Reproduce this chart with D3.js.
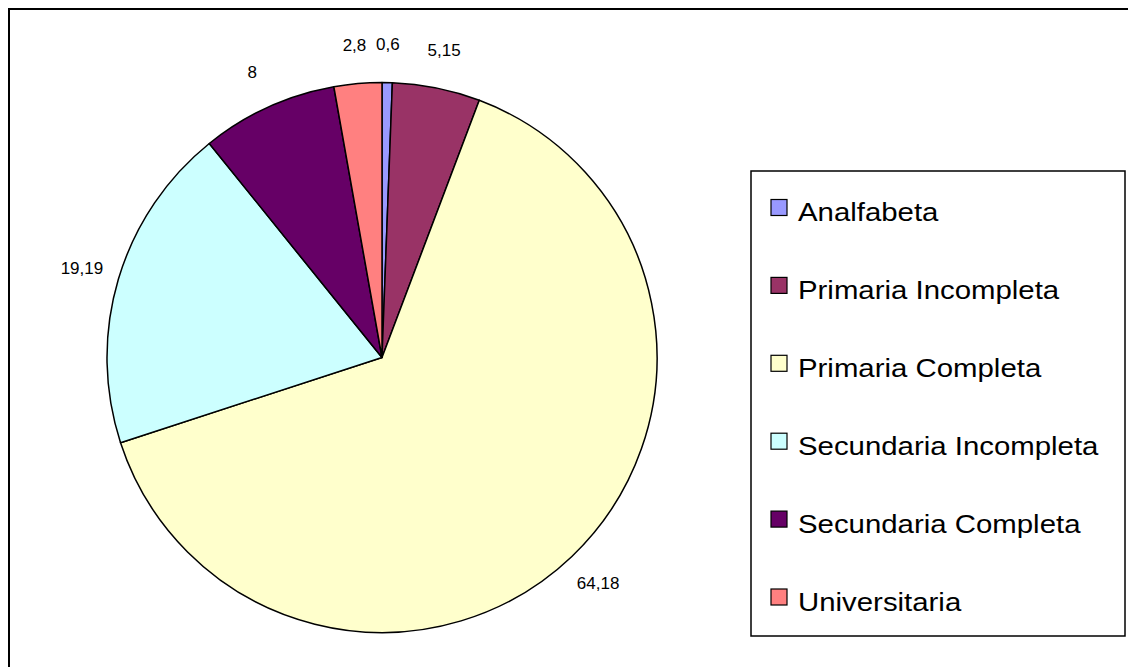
<!DOCTYPE html>
<html>
<head>
<meta charset="utf-8">
<script src="https://cdn.jsdelivr.net/npm/d3@7"></script>
<style>
  html, body { margin: 0; padding: 0; background: #ffffff; }
  svg { display: block; }
  text { font-family: "Liberation Sans", Arial, sans-serif; fill: #000; }
</style>
</head>
<body>
<svg id="chart" width="1128" height="667"></svg>
<script>
// Nivel educativo: categorías, porcentajes y colores de cada sector
const categories = [
  "Analfabeta",
  "Primaria Incompleta",
  "Primaria Completa",
  "Secundaria Incompleta",
  "Secundaria Completa",
  "Universitaria"
];
const values = [0.6, 5.15, 64.18, 19.19, 8, 2.8];
const colors = ["#9999FF", "#993366", "#FFFFCC", "#CCFFFF", "#660066", "#FF8080"];

const svg = d3.select("#chart");
const W = 1128, H = 667;

// marco exterior (se sale por la derecha y por abajo)
svg.append("path")
  .attr("d", `M${W + 10},9 H9 V${H + 10}`)
  .attr("fill", "none")
  .attr("stroke", "#000")
  .attr("stroke-width", 2);

// ---- tarta ----
const cx = 382, cy = 357.5, radius = 275, labelRadius = 313;

const pie = d3.pie().sort(null).value(d => d.value)
  .startAngle(0).endAngle(2 * Math.PI);
const data = categories.map((c, i) => ({ name: c, value: values[i], color: colors[i] }));
const arcs = pie(data);

const arc = d3.arc().innerRadius(0).outerRadius(radius);
const labelArc = d3.arc().innerRadius(labelRadius).outerRadius(labelRadius);

const g = svg.append("g").attr("transform", `translate(${cx},${cy})`);

g.selectAll("path.slice")
  .data(arcs)
  .join("path")
  .attr("class", "slice")
  .attr("d", arc)
  .attr("fill", d => d.data.color)
  .attr("stroke", "#000")
  .attr("stroke-width", 1.5)
  .attr("stroke-linejoin", "round");

const fmt = v => String(v).replace(".", ",");

g.selectAll("text.val")
  .data(arcs)
  .join("text")
  .attr("class", "val")
  .attr("transform", d => `translate(${labelArc.centroid(d)})`)
  .attr("text-anchor", "middle")
  .attr("dominant-baseline", "central")
  .attr("font-size", 17)
  .text(d => fmt(d.data.value));

// ---- leyenda ----
const box = { x: 751, y: 171, w: 374, h: 465 };
svg.append("rect")
  .attr("x", box.x).attr("y", box.y)
  .attr("width", box.w).attr("height", box.h)
  .attr("fill", "#fff")
  .attr("stroke", "#000")
  .attr("stroke-width", 1.5);

const rowY = d3.scalePoint()
  .domain(categories)
  .range([207.5, 597]);

const items = svg.append("g").selectAll("g.item")
  .data(data)
  .join("g")
  .attr("class", "item")
  .attr("transform", d => `translate(771,${rowY(d.name)})`);

items.append("rect")
  .attr("x", 0).attr("y", -8)
  .attr("width", 16).attr("height", 16)
  .attr("fill", d => d.color)
  .attr("stroke", "#000")
  .attr("stroke-width", 1.2);

items.append("text")
  .attr("transform", "translate(27,13.5) scale(1.13,1)")
  .attr("font-size", 26)
  .text(d => d.name);
</script>
</body>
</html>
